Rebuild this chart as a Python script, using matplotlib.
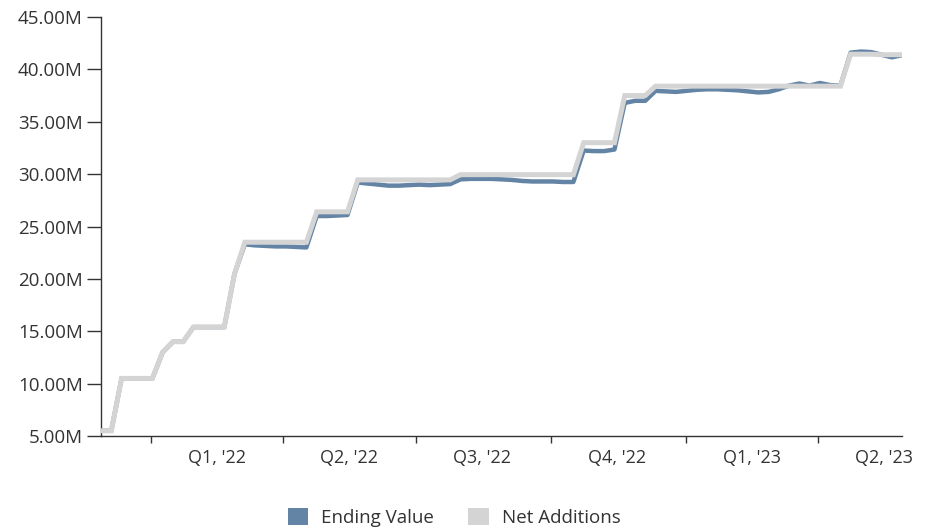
import matplotlib
matplotlib.use("Agg")
import matplotlib.pyplot as plt
import matplotlib.ticker as mticker
from matplotlib.patches import Patch
import pandas as pd

plt.rcParams['font.family'] = ['Open Sans', 'DejaVu Sans']

# weekly points, Nov 28 2021 .. May 28 2023
week_start = '2021-11-28'
n_weeks = 79

# values in millions
net_additions = [
    5.5, 5.5, 10.5, 10.5, 10.5, 10.5, 13.0, 14.0, 14.0, 15.4,
    15.4, 15.4, 15.4, 20.5, 23.5, 23.5, 23.5, 23.5, 23.5, 23.5,
    23.5, 26.4, 26.4, 26.4, 26.4, 29.45, 29.45, 29.45, 29.45, 29.45,
    29.45, 29.45, 29.45, 29.45, 29.45, 29.95, 29.95, 29.95, 29.95, 29.95,
    29.95, 29.95, 29.95, 29.95, 29.95, 29.95, 29.95, 33.0, 33.0, 33.0,
    33.0, 37.5, 37.5, 37.5, 38.4, 38.4, 38.4, 38.4, 38.4, 38.4,
    38.4, 38.4, 38.4, 38.4, 38.4, 38.4, 38.4, 38.4, 38.4, 38.4,
    38.4, 38.4, 38.4, 41.45, 41.45, 41.45, 41.4, 41.4, 41.4,
]
ending_value = [
    5.5, 5.5, 10.5, 10.5, 10.5, 10.5, 13.0, 14.0, 14.0, 15.4,
    15.4, 15.4, 15.4, 20.5, 23.3, 23.2, 23.15, 23.1, 23.1, 23.05,
    23.0, 26.0, 26.0, 26.05, 26.1, 29.2, 29.1, 29.0, 28.9, 28.9,
    28.95, 29.0, 28.95, 29.0, 29.05, 29.5, 29.55, 29.55, 29.55, 29.5,
    29.45, 29.35, 29.3, 29.3, 29.3, 29.25, 29.25, 32.25, 32.2, 32.2,
    32.35, 36.8, 37.0, 37.0, 37.95, 37.9, 37.85, 37.95, 38.05, 38.1,
    38.1, 38.05, 38.0, 37.9, 37.8, 37.85, 38.1, 38.45, 38.65, 38.45,
    38.7, 38.5, 38.45, 41.6, 41.7, 41.65, 41.4, 41.15, 41.35,
]

quarter_starts = ['2022-01-01', '2022-04-01', '2022-07-01', '2022-10-01', '2023-01-01', '2023-04-01']
quarter_labels = ["Q1, '22", "Q2, '22", "Q3, '22", "Q4, '22", "Q1, '23", "Q2, '23"]

dates = pd.date_range(week_start, periods=n_weeks, freq='7D')

blue = '#6384a5'
grey = '#d4d4d4'
text_col = '#333333'

fig = plt.figure(figsize=(9.39, 5.28), dpi=100)
ax = fig.add_axes([0.1076, 0.1742, 0.8530, 0.7936])

ax.plot(dates, [v * 1e6 for v in ending_value], color=blue, lw=3.2, solid_joinstyle='round', zorder=2)
ax.plot(dates, [v * 1e6 for v in net_additions], color=grey, lw=3.6, solid_joinstyle='miter', zorder=3)

ax.set_xlim(dates[0], dates[-1])
ax.set_ylim(5e6, 45e6)
ax.yaxis.set_major_locator(mticker.MultipleLocator(5e6))
ax.yaxis.set_major_formatter(mticker.FuncFormatter(lambda v, p: '%.2fM' % (v / 1e6)))

# ticks at quarter boundaries, labels in the middle of each quarter
qs = pd.to_datetime(quarter_starts)
mids = [q + pd.Timedelta(days=45) for q in qs]
ax.set_xticks(qs)
ax.set_xticklabels([])
ax.set_xticks(mids, minor=True)
ax.set_xticklabels(quarter_labels, minor=True)
ax.tick_params(axis='x', which='minor', length=0, pad=9, labelsize=13)
ax.tick_params(axis='x', which='major', length=5, width=1, color=text_col)
ax.tick_params(axis='y', length=10, width=1, color=text_col, pad=3, labelsize=13.5)
ax.tick_params(axis='both', which='both', labelcolor=text_col)

for s in ['top', 'right']:
    ax.spines[s].set_visible(False)
for s in ['left', 'bottom']:
    ax.spines[s].set_color(text_col)
    ax.spines[s].set_linewidth(1)

handles = [Patch(facecolor=blue, edgecolor='none', label='Ending Value'),
           Patch(facecolor=grey, edgecolor='none', label='Net Additions')]
fig.legend(handles=handles, loc='lower center', bbox_to_anchor=(0.4835, -0.03), ncol=2,
           frameon=False, fontsize=13.5, handlelength=1.1, handleheight=1.0,
           columnspacing=1.8, handletextpad=0.7, labelcolor=text_col)

fig.savefig('out.png', dpi=100)
